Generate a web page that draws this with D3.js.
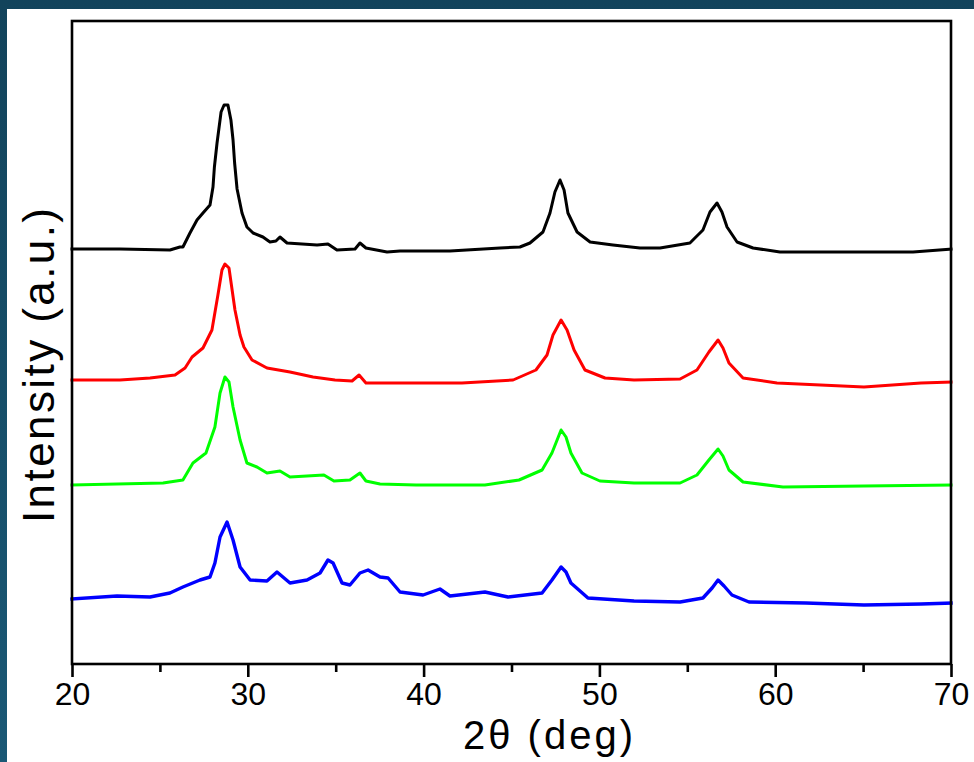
<!DOCTYPE html>
<html>
<head>
<meta charset="utf-8">
<script src="https://cdn.jsdelivr.net/npm/d3@7"></script>
<style>
  html, body { margin: 0; padding: 0; background: #ffffff; }
  svg { display: block; }
  text { font-family: "Liberation Sans", Arial, Helvetica, sans-serif; fill: #000; }
</style>
</head>
<body>
<svg id="chart" width="974" height="762"></svg>
<script>
// XRD patterns, 2θ (deg) vs. intensity (a.u.), stacked with vertical offsets
const majorTicks = [20, 30, 40, 50, 60, 70];
const minorTicks = [25, 35, 45, 55, 65];
const seriesColors = ["#000000", "#ff0000", "#00ff00", "#0000ff"];

const blackPattern = [
  [20.00, 415], [22.73, 415], [25.57, 414], [26.14, 417], [26.31, 417], [26.71, 431],
  [27.11, 444], [27.45, 451], [27.85, 459], [28.02, 477], [28.10, 497], [28.25, 521],
  [28.48, 552], [28.65, 559], [28.87, 559], [29.04, 544], [29.16, 524], [29.25, 501],
  [29.39, 475], [29.67, 451], [29.95, 437], [30.30, 431], [30.86, 427], [31.26, 422],
  [31.60, 423], [31.83, 427], [32.23, 421], [33.94, 419], [34.56, 420], [35.07, 414],
  [36.10, 415], [36.38, 421], [36.72, 416], [37.92, 412], [38.66, 413], [41.50, 413],
  [44.35, 416], [45.48, 417], [46.05, 421], [46.79, 432], [47.19, 451], [47.47, 472],
  [47.76, 484], [47.99, 474], [48.21, 451], [48.73, 432], [49.47, 422], [50.77, 419],
  [52.31, 416], [53.45, 416], [55.15, 421], [55.89, 434], [56.29, 452], [56.69, 461],
  [56.97, 452], [57.26, 437], [57.83, 422], [58.74, 416], [60.27, 412], [63.12, 412],
  [65.39, 412], [67.84, 412], [70.00, 415]
];

const redPattern = [
  [20.00, 284], [22.73, 284], [24.44, 286], [25.86, 289], [26.43, 296], [26.83, 307],
  [27.45, 316], [27.96, 334], [28.30, 369], [28.53, 394], [28.70, 400], [28.93, 396],
  [29.27, 354], [29.56, 329], [29.78, 317], [30.24, 304], [31.09, 296], [32.40, 292],
  [33.71, 287], [34.96, 284], [35.93, 283], [36.33, 289], [36.72, 281], [38.89, 281],
  [42.18, 281], [45.09, 284], [46.39, 294], [47.02, 309], [47.36, 329], [47.82, 344],
  [48.16, 334], [48.56, 314], [49.18, 294], [50.32, 286], [51.97, 284], [54.59, 285],
  [55.55, 294], [56.23, 312], [56.75, 324], [57.03, 316], [57.37, 301], [58.17, 286],
  [60.10, 281], [65.05, 277], [68.29, 281], [70.00, 282]
];

const greenPattern = [
  [20.00, 179], [25.18, 181], [26.31, 184], [26.88, 201], [27.62, 211], [28.13, 237],
  [28.42, 271], [28.70, 287], [28.93, 282], [29.16, 257], [29.56, 224], [29.95, 201],
  [30.52, 197], [31.09, 191], [31.83, 193], [32.40, 187], [34.33, 189], [34.90, 183],
  [35.81, 184], [36.38, 191], [36.72, 183], [37.52, 180], [39.57, 179], [43.49, 179],
  [45.43, 184], [46.74, 194], [47.30, 211], [47.82, 234], [48.10, 227], [48.38, 211],
  [49.01, 191], [50.03, 183], [51.97, 181], [54.59, 181], [55.55, 189], [56.23, 204],
  [56.75, 215], [57.03, 208], [57.37, 194], [58.17, 182], [60.44, 177], [65.05, 178],
  [70.00, 179]
];

const bluePattern = [
  [20.00, 65], [22.56, 68], [24.44, 67], [25.57, 71], [26.31, 77], [27.28, 84],
  [27.85, 87], [28.13, 101], [28.42, 127], [28.82, 142], [29.16, 124], [29.56, 97],
  [30.13, 84], [31.09, 83], [31.66, 92], [32.40, 81], [33.37, 84], [34.11, 91],
  [34.56, 104], [34.85, 101], [35.36, 81], [35.81, 79], [36.38, 91], [36.84, 94],
  [37.52, 87], [37.98, 86], [38.66, 72], [39.97, 69], [40.93, 75], [41.50, 68],
  [43.49, 72], [44.80, 67], [46.74, 71], [47.30, 84], [47.82, 97], [48.10, 92],
  [48.38, 81], [49.35, 66], [51.97, 63], [54.59, 62], [55.89, 66], [56.41, 76],
  [56.75, 84], [57.09, 78], [57.54, 69], [58.51, 62], [61.75, 61], [65.05, 59],
  [68.29, 60], [70.00, 61]
];

const patterns = [blackPattern, redPattern, greenPattern, bluePattern];

const W = 974, H = 762;
const plot = { left: 72, right: 951, top: 21, bottom: 664 };

const svg = d3.select("#chart");

// page backdrop: dark band along top and left, white sheet over the rest
const grad = svg.append("defs").append("linearGradient")
  .attr("id", "navy").attr("x1", 0).attr("y1", 0).attr("x2", 0).attr("y2", 1);
grad.append("stop").attr("offset", "0%").attr("stop-color", "#12435b");
grad.append("stop").attr("offset", "100%").attr("stop-color", "#1a5875");
svg.append("rect").attr("width", W).attr("height", H).attr("fill", "url(#navy)");
svg.append("rect").attr("x", 7).attr("y", 9).attr("width", W - 7).attr("height", H - 9).attr("fill", "#ffffff");

const x = d3.scaleLinear().domain([20, 70]).range([plot.left, plot.right]);
const y = d3.scaleLinear().domain([0, 643]).range([plot.bottom, plot.top]);

// curves
const line = d3.line().x(d => x(d[0])).y(d => y(d[1]));
svg.append("g").selectAll("path")
  .data(patterns)
  .join("path")
  .attr("d", d => line(d))
  .attr("fill", "none")
  .attr("stroke", (d, i) => seriesColors[i])
  .attr("stroke-width", (d, i) => i === 3 ? 3.4 : 3)
  .attr("stroke-linejoin", "round")
  .attr("stroke-linecap", "square");

// frame
svg.append("rect")
  .attr("x", plot.left).attr("y", plot.top)
  .attr("width", plot.right - plot.left).attr("height", plot.bottom - plot.top)
  .attr("fill", "none").attr("stroke", "#000").attr("stroke-width", 2.6);

// bottom axis: major and minor ticks pointing outward
const gMajor = svg.append("g")
  .attr("transform", `translate(0,${plot.bottom})`)
  .call(d3.axisBottom(x).tickValues(majorTicks).tickSize(13).tickPadding(5).tickFormat(d3.format("d")));
gMajor.select(".domain").remove();
gMajor.selectAll(".tick line").attr("stroke", "#000").attr("stroke-width", 2.6);
gMajor.selectAll(".tick text")
  .style("font-family", '"Liberation Sans", Arial, sans-serif')
  .style("font-size", "32px").attr("fill", "#000");

const gMinor = svg.append("g")
  .attr("transform", `translate(0,${plot.bottom})`)
  .call(d3.axisBottom(x).tickValues(minorTicks).tickSize(8).tickFormat(""));
gMinor.select(".domain").remove();
gMinor.selectAll(".tick line").attr("stroke", "#000").attr("stroke-width", 2.6);

// axis titles
svg.append("text")
  .attr("x", 463).attr("y", 749)
  .attr("textLength", 170).attr("lengthAdjust", "spacing")
  .style("font-size", "40px")
  .text("2θ (deg)");

svg.append("text")
  .attr("transform", "translate(54,523) rotate(-90)")
  .attr("x", 0).attr("y", 0)
  .attr("textLength", 315).attr("lengthAdjust", "spacing")
  .style("font-size", "44px")
  .text("Intensity (a.u.)");
</script>
</body>
</html>
